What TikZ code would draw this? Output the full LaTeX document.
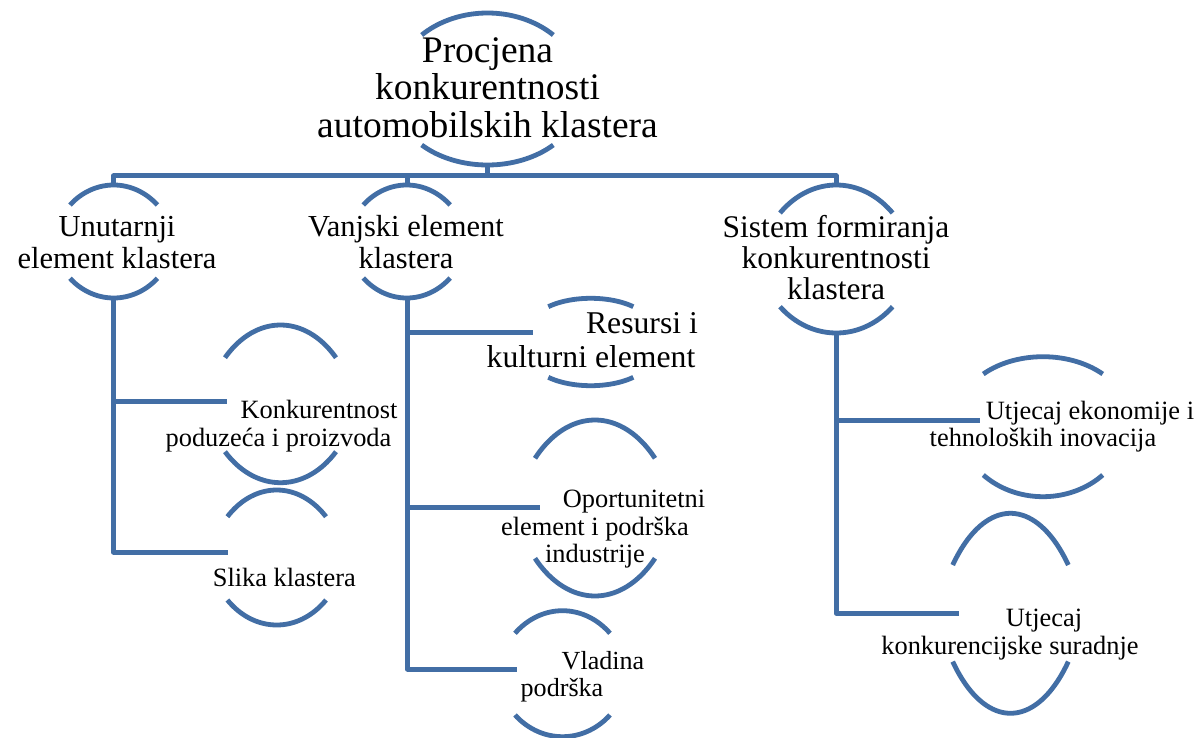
\documentclass[tikz,border=0pt]{standalone}
\usepackage{fontspec}
\setmainfont{Liberation Serif}
\definecolor{lineblue}{RGB}{66,110,165}
\newcommand{\arctopx}[4]{%
  \pgfmathsetmacro{\rxv}{#3/cos(45)}%
  \pgfmathsetmacro{\ryv}{#4/(1-sin(45))}%
  \draw[arcline] plot[domain=225:315,samples=40,smooth] ({#1+\rxv*cos(\x)},{#2+\ryv+\ryv*sin(\x)});%
}
\newcommand{\arcbotx}[4]{%
  \pgfmathsetmacro{\rxv}{#3/cos(45)}%
  \pgfmathsetmacro{\ryv}{#4/(1-sin(45))}%
  \draw[arcline] plot[domain=135:45,samples=40,smooth] ({#1+\rxv*cos(\x)},{#2-\ryv+\ryv*sin(\x)});%
}
\tikzset{
  arcline/.style={draw=lineblue,line width=4.8pt,line cap=butt},
  conn/.style={draw=lineblue,line width=5pt,line join=round},
  lbl/.style={inner sep=0pt,align=center,text=black},
  fone/.style={lbl,font=\fontsize{37.5}{37.5}\selectfont},
  ftwo/.style={lbl,font=\fontsize{30.5}{32}\selectfont},
  fthree/.style={lbl,font=\fontsize{26.4}{28}\selectfont},
}
\begin{document}
\begin{tikzpicture}[x=1pt,y=-1pt]
\useasboundingbox (0,0) rectangle (1204,738);
\fill[white] (0,0) rectangle (1204,738);

% text nodes
\node[fone] (title) at (487.5,87.7) {Procjena\\konkurentnosti\\automobilskih klastera};
\node[ftwo] (unut) at (117,242.4) {Unutarnji\\element klastera};
\node[ftwo] (vanj) at (406,242.4) {Vanjski element\\klastera};
\node[lbl,font=\fontsize{31.5}{31}\selectfont] (sist) at (836,257.3) {Sistem formiranja\\konkurentnosti\\klastera};
\node[fthree,font=\fontsize{26.4}{28.5}\selectfont] (konk) at (278.5,426.2) {\hspace*{81pt}Konkurentnost\\poduzeća i proizvoda};
\node[fthree] (slika) at (284.3,577.7) {Slika klastera};
\node[lbl,font=\fontsize{31.7}{33.4}\selectfont] (resu) at (591,340.1) {\hspace*{102pt}Resursi i\\kulturni element};
\node[fthree,font=\fontsize{26.4}{27.5}\selectfont] (oport) at (595,529.4) {\hspace*{78pt}Oportunitetni\\element i podrška\\industrije};
\node[fthree,font=\fontsize{26.1}{27.7}\selectfont] (vlad) at (562,676.8) {\hspace*{82pt}Vladina\\podrška};
\node[fthree,font=\fontsize{26.4}{27}\selectfont] (ekon) at (1043,426.4) {\hspace*{94pt}Utjecaj ekonomije i\\tehnoloških inovacija};
\node[fthree,font=\fontsize{26.4}{28.3}\selectfont] (kons) at (1010,634.7) {\hspace*{68pt}Utjecaj\\konkurencijske suradnje};

% arcs (node outlines)
\arctopx{487.5}{13}{65.8}{22}   \arcbotx{487.5}{165}{65.8}{20}
\arctopx{113.7}{185}{43.7}{20}  \arcbotx{113.7}{298}{43.7}{19.7}
\arctopx{406.7}{185}{43.4}{20}  \arcbotx{406.7}{298}{43.4}{20}
\arctopx{836.3}{185}{56.3}{28}  \arcbotx{836.3}{333}{56.3}{26.3}
\arctopx{280.5}{325}{55.5}{32.7} \arcbotx{280.5}{482.7}{55.5}{31}
\arctopx{276.7}{490}{49.3}{26.7} \arcbotx{276.7}{625}{49.3}{25}
\arctopx{590.8}{298.3}{42.5}{8.4} \arcbotx{590.8}{385.7}{42.5}{8.4}
\arctopx{595}{420}{60}{38.3}    \arcbotx{595}{596}{60}{37.7}
\arctopx{562.5}{610.7}{47.5}{22.6} \arcbotx{562.5}{736.7}{47.5}{21.7}
\arctopx{1043}{356.7}{59.7}{17.3} \arcbotx{1043}{496.7}{59.7}{21.7}
\arctopx{1010.5}{513.3}{57.8}{51.7} \arcbotx{1010.5}{713.3}{57.8}{51.7}

% connection points
\coordinate (title-b) at (487.5,165);
\coordinate (bus) at (487.5,176);
\coordinate (unut-t) at (113.5,185);
\coordinate (unut-b) at (113.5,298);
\coordinate (vanj-t) at (407.5,185);
\coordinate (vanj-b) at (407.5,298);
\coordinate (sist-t) at (836,185);
\coordinate (sist-b) at (836,333);
\coordinate (konk-in) at (227,401);
\coordinate (slika-in) at (228,552);
\coordinate (resu-in) at (533,332);
\coordinate (oport-in) at (540,507);
\coordinate (vlad-in) at (517,669);
\coordinate (ekon-in) at (980,420);
\coordinate (kons-in) at (959,613);

% connectors
\draw[conn] (title-b) -- (bus);
\draw[conn] (bus) -| (unut-t);
\draw[conn] (bus) -| (vanj-t);
\draw[conn] (bus) -| (sist-t);
\draw[conn] (unut-b) |- (konk-in);
\draw[conn] (unut-b) |- (slika-in);
\draw[conn] (vanj-b) |- (resu-in);
\draw[conn] (vanj-b) |- (oport-in);
\draw[conn] (vanj-b) |- (vlad-in);
\draw[conn] (sist-b) |- (ekon-in);
\draw[conn] (sist-b) |- (kons-in);
\end{tikzpicture}
\end{document}
